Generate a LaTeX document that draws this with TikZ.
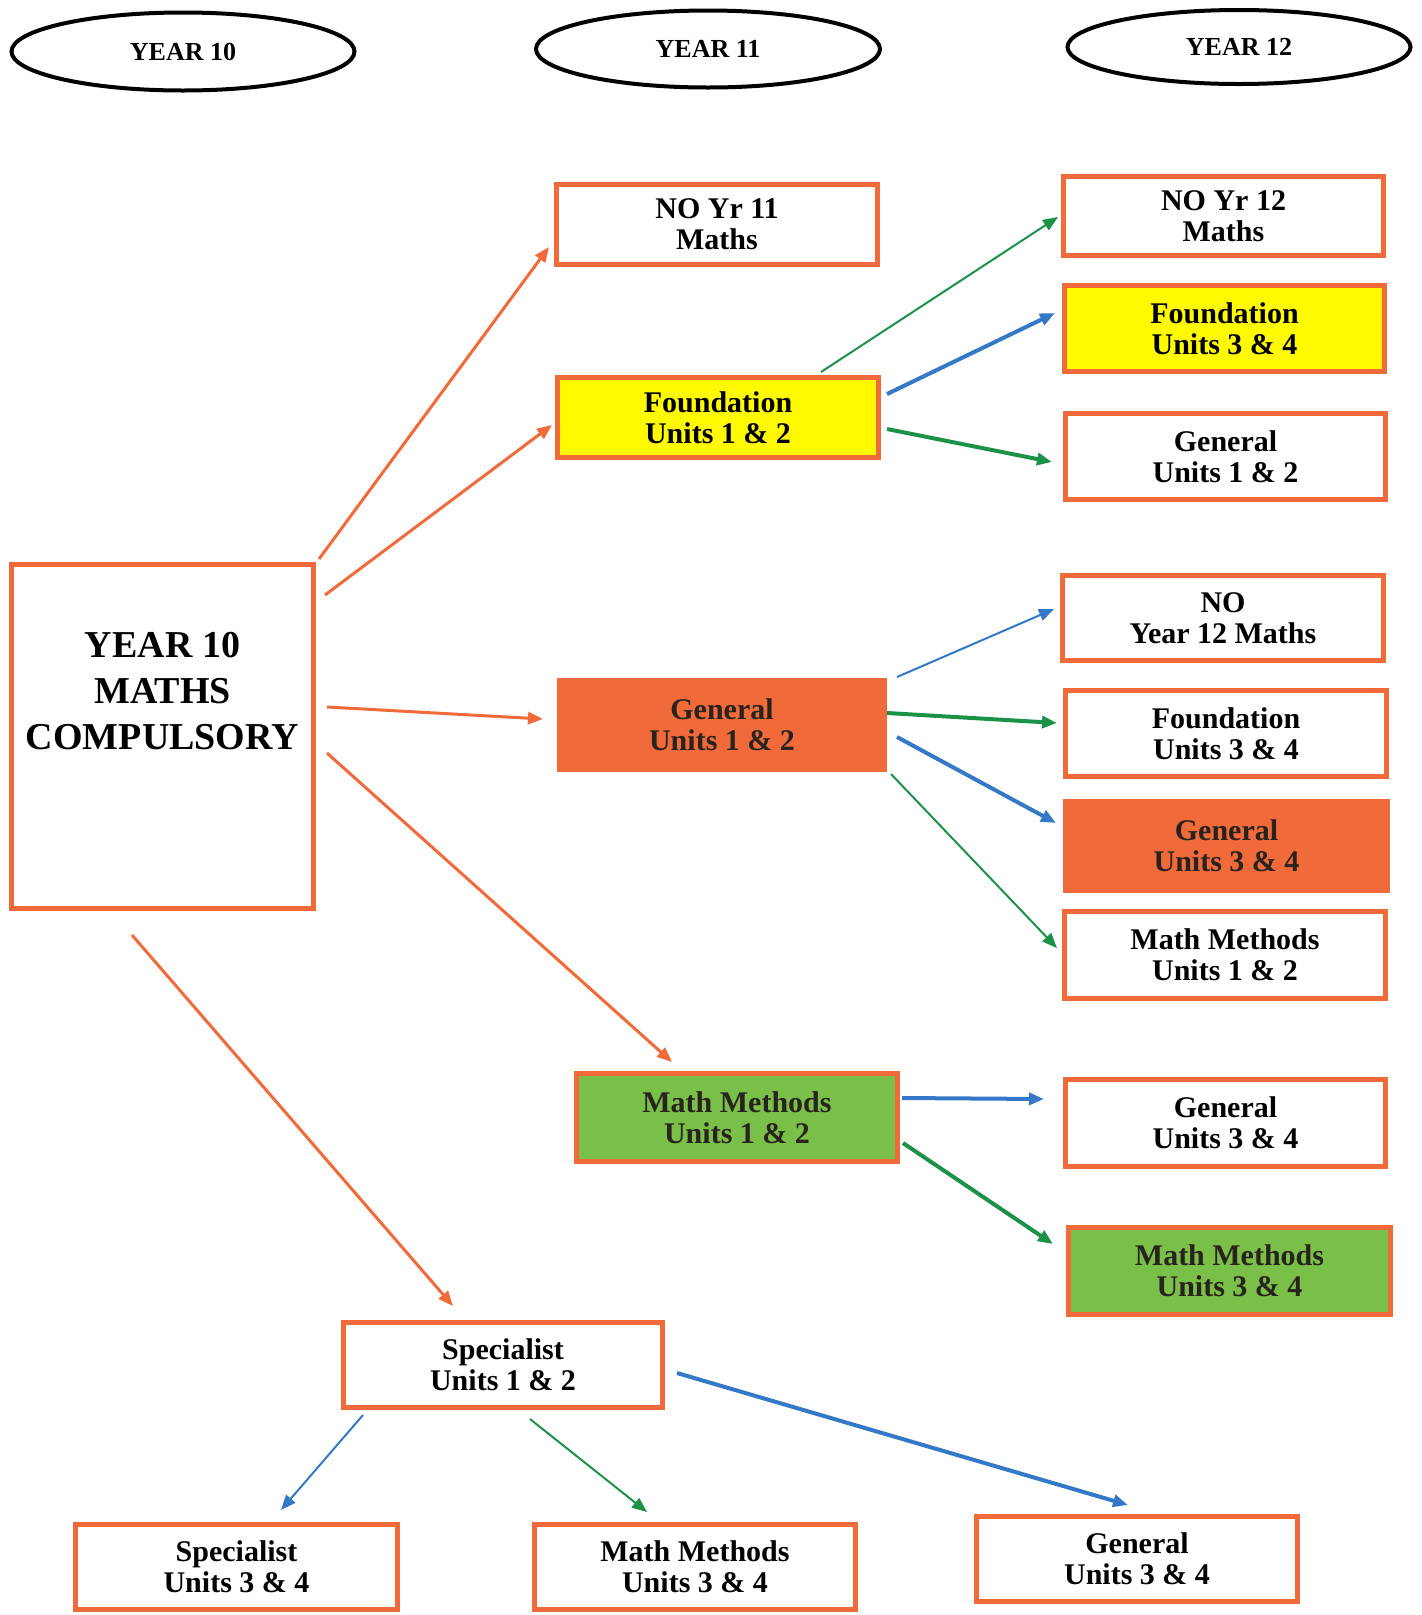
\documentclass[tikz,border=0pt]{standalone}
\usepackage{fontspec}
\setmainfont{Liberation Serif}
\usetikzlibrary{arrows.meta,shapes.geometric}
\definecolor{borange}{RGB}{240,106,58}
\definecolor{byellow}{RGB}{255,250,0}
\definecolor{bgreen}{RGB}{122,192,72}
\definecolor{ablue}{RGB}{52,120,200}
\definecolor{agreen}{RGB}{28,146,72}
\definecolor{darktext}{RGB}{40,35,30}
\tikzset{
  yearell/.style={ellipse, draw=black, line width=4pt, inner sep=0pt, outer sep=0pt,
    font=\fontsize{26}{28}\selectfont\bfseries},
  box/.style={rectangle, draw=borange, line width=5pt, fill=white, inner sep=0pt, outer sep=0pt,
    align=center, font=\fontsize{30}{31}\selectfont\bfseries},
  yellowbox/.style={box, fill=byellow},
  orangebox/.style={box, fill=borange, text=darktext},
  greenbox/.style={box, fill=bgreen, text=darktext},
  tip/.style={-{Triangle[length=15pt,width=12pt]}},
  orangearrow/.style={tip, draw=borange, line width=3pt},
  bluethin/.style={tip, draw=ablue, line width=2pt},
  bluethick/.style={tip, draw=ablue, line width=4pt},
  greenthin/.style={tip, draw=agreen, line width=2pt},
  greenthick/.style={tip, draw=agreen, line width=4pt},
}
\newcommand{\bx}[3]{minimum width=#1pt-5pt, minimum height=#2pt-5pt}
\begin{document}
\begin{tikzpicture}[x=1pt,y=-1pt]
\useasboundingbox (0,0) rectangle (1422,1615);

% year ellipses
\node[yearell, minimum width=343pt, minimum height=78pt] (y10) at (183,51.5) {YEAR 10};
\node[yearell, minimum width=344pt, minimum height=77pt] (y11) at (708,49) {YEAR 11};
\node[yearell, minimum width=343pt, minimum height=74pt] (y12) at (1239,47) {YEAR 12};

% main box
\node[box, minimum width=302pt, minimum height=344pt,
  label={[font=\fontsize{38}{46}\selectfont\bfseries, align=center, yshift=45pt]center:YEAR 10\\MATHS\\COMPULSORY}]
  (main) at (162.5,736.5) {};

% year 11 column
\node[box, minimum width=321pt, minimum height=80pt] (no11) at (717,224.5) {NO Yr 11\\Maths};
\node[yellowbox, minimum width=321pt, minimum height=80pt] (f12) at (718,417.5) {Foundation\\Units 1 \& 2};
\node[orangebox, minimum width=325pt, minimum height=89pt] (g12) at (722,725) {General\\Units 1 \& 2};
\node[greenbox, minimum width=321pt, minimum height=88pt] (mm12) at (737,1117.5) {Math Methods\\Units 1 \& 2};
\node[box, minimum width=319pt, minimum height=85pt] (s12) at (503,1365) {Specialist\\Units 1 \& 2};

% year 12 column
\node[box, minimum width=320pt, minimum height=79pt] (r1) at (1223.5,216) {NO Yr 12\\Maths};
\node[yellowbox, minimum width=320pt, minimum height=86pt] (r2) at (1224.5,328.5) {Foundation\\Units 3 \& 4};
\node[box, minimum width=320pt, minimum height=86pt] (r3) at (1225.5,456.5) {General\\Units 1 \& 2};
\node[box, minimum width=321pt, minimum height=85pt] (r4) at (1223,618) {NO\\Year 12 Maths};
\node[box, minimum width=321pt, minimum height=86pt] (r5) at (1226,733.5) {Foundation\\Units 3 \& 4};
\node[orangebox, minimum width=322pt, minimum height=89pt] (r6) at (1226.5,846) {General\\Units 3 \& 4};
\node[box, minimum width=321pt, minimum height=87pt] (r7) at (1225,955) {Math Methods\\Units 1 \& 2};
\node[box, minimum width=320pt, minimum height=87pt] (r8) at (1225.5,1123) {General\\Units 3 \& 4};
\node[greenbox, minimum width=322pt, minimum height=87pt] (r9) at (1229.5,1271) {Math Methods\\Units 3 \& 4};

% bottom row
\node[box, minimum width=322pt, minimum height=85pt] (b1) at (236.5,1567) {Specialist\\Units 3 \& 4};
\node[box, minimum width=321pt, minimum height=85pt] (b2) at (695,1567) {Math Methods\\Units 3 \& 4};
\node[box, minimum width=321pt, minimum height=85pt] (b3) at (1137,1559) {General\\Units 3 \& 4};

% arrows from main box
\draw[orangearrow] ([shift={(5.5,-5.5)}]main.north east) -- ([shift={(-7.5,-17.5)}]no11.south west);
\draw[orangearrow] ([shift={(11.5,30.5)}]main.north east) -- ([shift={(-5.5,7.5)}]f12.west);
\draw[orangearrow] ([shift={(13.5,-29.5)}]main.east) -- ([shift={(-16.5,-6)}]g12.west);
\draw[orangearrow] ([shift={(13.5,16.5)}]main.east) -- ([shift={(-65,-11.5)}]mm12.north);
\draw[orangearrow] ([shift={(-30.5,26.5)}]main.south) -- ([shift={(-50,-16.5)}]s12.north);

% from Foundation Units 1 & 2
\draw[greenthin] ([shift={(103,-5.5)}]f12.north) -- ([shift={(-5.5,1)}]r1.west);
\draw[bluethick] ([shift={(8.5,-23.5)}]f12.east) -- ([shift={(-9.5,-15.5)}]r2.west);
\draw[greenthick] ([shift={(8.5,11.5)}]f12.east) -- ([shift={(-13.5,5.5)}]r3.west);

% from General Units 1 & 2
\draw[bluethin] ([shift={(12.5,-48)}]g12.east) -- ([shift={(-8.5,-9)}]r4.west);
\draw[greenthick] ([shift={(2.5,-12)}]g12.east) -- ([shift={(-8.5,-10.5)}]r5.west);
\draw[bluethick] ([shift={(12.5,12)}]g12.east) -- ([shift={(-9.5,-23)}]r6.west);
\draw[greenthin] ([shift={(6.5,49)}]g12.east) -- ([shift={(-7.5,-7)}]r7.west);

% from Math Methods Units 1 & 2
\draw[bluethick] ([shift={(4.5,-19.5)}]mm12.east) -- ([shift={(-21.5,-24)}]r8.west);
\draw[greenthick] ([shift={(5.5,25.5)}]mm12.east) -- ([shift={(-15.5,-27)}]r9.west);

% from Specialist Units 1 & 2
\draw[bluethin] ([shift={(19.5,7.5)}]s12.south west) -- ([shift={(44.5,-14.5)}]b1.north);
\draw[greenthin] ([shift={(27,11.5)}]s12.south) -- ([shift={(-48,-12.5)}]b2.north);
\draw[bluethick] ([shift={(14.5,8)}]s12.east) -- ([shift={(-9,-11.5)}]b3.north);
\end{tikzpicture}
\end{document}
